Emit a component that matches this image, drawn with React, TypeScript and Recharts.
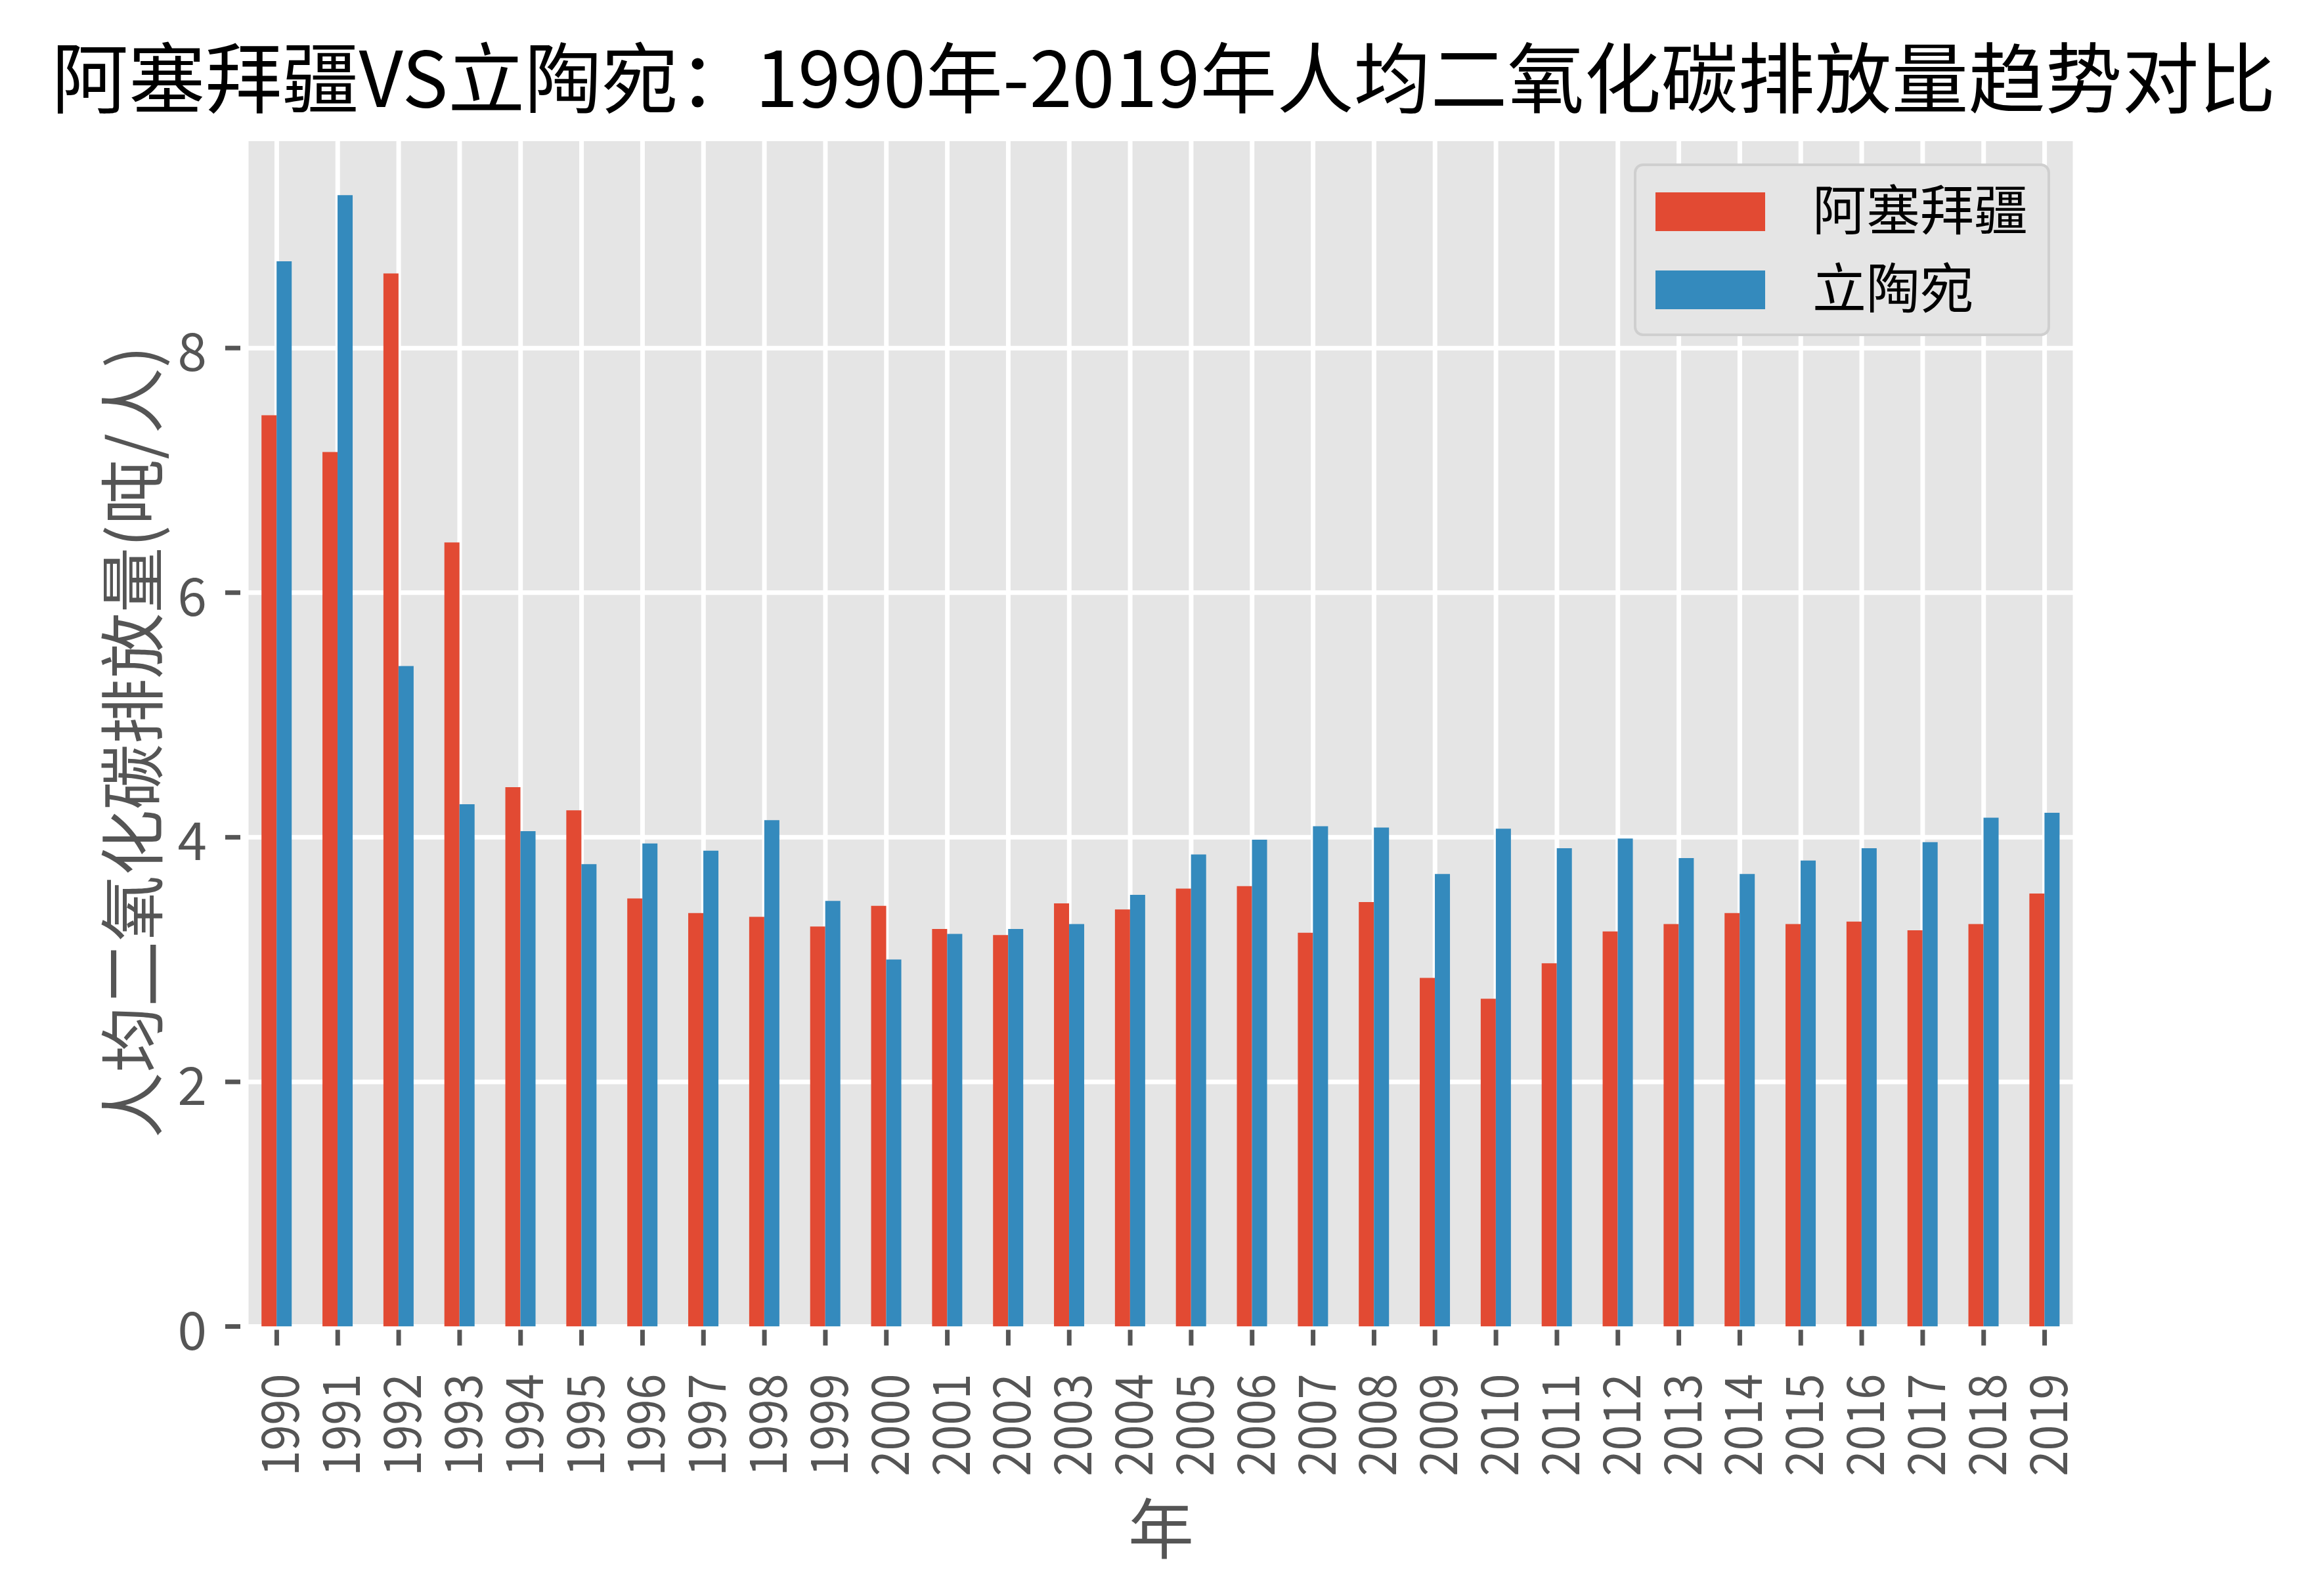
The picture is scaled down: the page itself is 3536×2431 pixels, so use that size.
import React from 'react';
import { BarChart, Bar, XAxis, YAxis, CartesianGrid, Legend } from 'recharts';

const years = ['1990','1991','1992','1993','1994','1995','1996','1997','1998','1999','2000','2001','2002','2003','2004','2005','2006','2007','2008','2009','2010','2011','2012','2013','2014','2015','2016','2017','2018','2019'];
const azerbaijan = [7.45,7.15,8.61,6.41,4.41,4.22,3.50,3.38,3.35,3.27,3.44,3.25,3.20,3.46,3.41,3.58,3.60,3.22,3.47,2.85,2.68,2.97,3.23,3.29,3.38,3.29,3.31,3.24,3.29,3.54];
const lithuania = [8.71,9.25,5.40,4.27,4.05,3.78,3.95,3.89,4.14,3.48,3.00,3.21,3.25,3.29,3.53,3.86,3.98,4.09,4.08,3.70,4.07,3.91,3.99,3.83,3.70,3.81,3.91,3.96,4.16,4.20];
const seriesNames = ['阿塞拜疆', '立陶宛'];
const seriesColors = ['#E24A33', '#348ABD'];
const yTicks = [0, 2, 4, 6, 8];
const yMax = 9.71;
const titleText = '阿塞拜疆VS立陶宛：1990年-2019年人均二氧化碳排放量趋势对比';
const yLabelText = '人均二氧化碳排放量(吨/人)';
const xLabelText = '年';

const data = years.map((y, i) => ({ year: y, az: azerbaijan[i], lt: lithuania[i] }));

const W = 3520;
const H = 2415;
const FONT = '"Noto Sans CJK SC", "Noto Sans", sans-serif';

const XTick = (props: any) => {
  const { x, y, payload } = props;
  return (
    <g>
      <line x1={x} x2={x} y1={y + 5} y2={y + 29} stroke="#555555" strokeWidth={7} />
      <text
        x={0}
        y={0}
        transform={`translate(${x},${y + 72}) rotate(-90)`}
        textAnchor="end"
        dominantBaseline="central"
        fontSize={78}
        fill="#555555"
        textLength={156}
        lengthAdjust="spacingAndGlyphs"
      >
        {payload.value}
      </text>
    </g>
  );
};

const YTick = (props: any) => {
  const { x, y, payload } = props;
  return (
    <g>
      <line x1={x - 32} x2={x - 9} y1={y} y2={y} stroke="#555555" strokeWidth={7} />
      <text x={x - 60} y={y} textAnchor="end" dominantBaseline="central" fontSize={80} fill="#555555">
        {payload.value}
      </text>
    </g>
  );
};

const LegendBox = (props: any) => {
  const payload = [...(props.payload || [])].sort(
    (a: any, b: any) => seriesNames.indexOf(a.value) - seriesNames.indexOf(b.value)
  );
  return (
    <div
      style={{
        boxSizing: 'border-box',
        width: 634,
        height: 263,
        background: '#E5E5E5',
        border: '4px solid #CFCFCF',
        borderRadius: 14,
        position: 'relative',
        fontFamily: FONT,
      }}
    >
      {payload.map((p: any, i: number) => (
        <div key={i} style={{ position: 'absolute', left: 0, top: 40 + i * 119, height: 59, width: '100%' }}>
          <div style={{ position: 'absolute', left: 29, top: 0, width: 167, height: 59, background: p.color }} />
          <div
            style={{
              position: 'absolute',
              left: 268,
              top: -20,
              height: 83,
              lineHeight: '83px',
              fontSize: 82,
              color: '#000000',
              whiteSpace: 'nowrap',
            }}
          >
            {p.value}
          </div>
        </div>
      ))}
    </div>
  );
};

export default function App() {
  return (
    <div style={{ position: 'relative', width: W, height: H, fontFamily: FONT, background: '#FFFFFF' }}>
      <BarChart
        width={W}
        height={H}
        data={data}
        margin={{ top: 203.6, right: 368, bottom: 102.5, left: 167 }}
        barCategoryGap="25%"
        barGap={0}
      >
        <CartesianGrid fill="#E5E5E5" stroke="#FFFFFF" strokeWidth={7} />
        <XAxis
          dataKey="year"
          interval={0}
          height={300}
          tick={<XTick />}
          tickLine={false}
          axisLine={false}
          tickSize={0}
          tickMargin={0}
        />
        <YAxis
          type="number"
          domain={[0, yMax]}
          ticks={yTicks}
          width={200}
          tick={<YTick />}
          tickLine={false}
          axisLine={false}
          tickSize={0}
          tickMargin={0}
          allowDataOverflow
        />
        <Legend
          layout="vertical"
          align="center"
          verticalAlign="middle"
          content={<LegendBox />}
          wrapperStyle={{ position: 'absolute', left: 2480, top: 241, width: 634, height: 263 }}
        />
        <Bar dataKey="az" name={seriesNames[0]} fill={seriesColors[0]} isAnimationActive={false} />
        <Bar dataKey="lt" name={seriesNames[1]} fill={seriesColors[1]} isAnimationActive={false} />
      </BarChart>
      <svg
        width={W}
        height={H}
        style={{ position: 'absolute', left: 0, top: 0, pointerEvents: 'none' }}
      >
        <text x={1764} y={104} textAnchor="middle" dominantBaseline="central" fontSize={117} fill="#000000" fontFamily={FONT}>
          {titleText}
        </text>
        <text
          transform="translate(187,1122) rotate(-90)"
          textAnchor="middle"
          dominantBaseline="central"
          fontSize={100}
          fill="#555555"
          fontFamily={FONT}
        >
          {yLabelText}
        </text>
        <text x={1760} y={2314} textAnchor="middle" dominantBaseline="central" fontSize={100} fill="#555555" fontFamily={FONT}>
          {xLabelText}
        </text>
      </svg>
    </div>
  );
}
